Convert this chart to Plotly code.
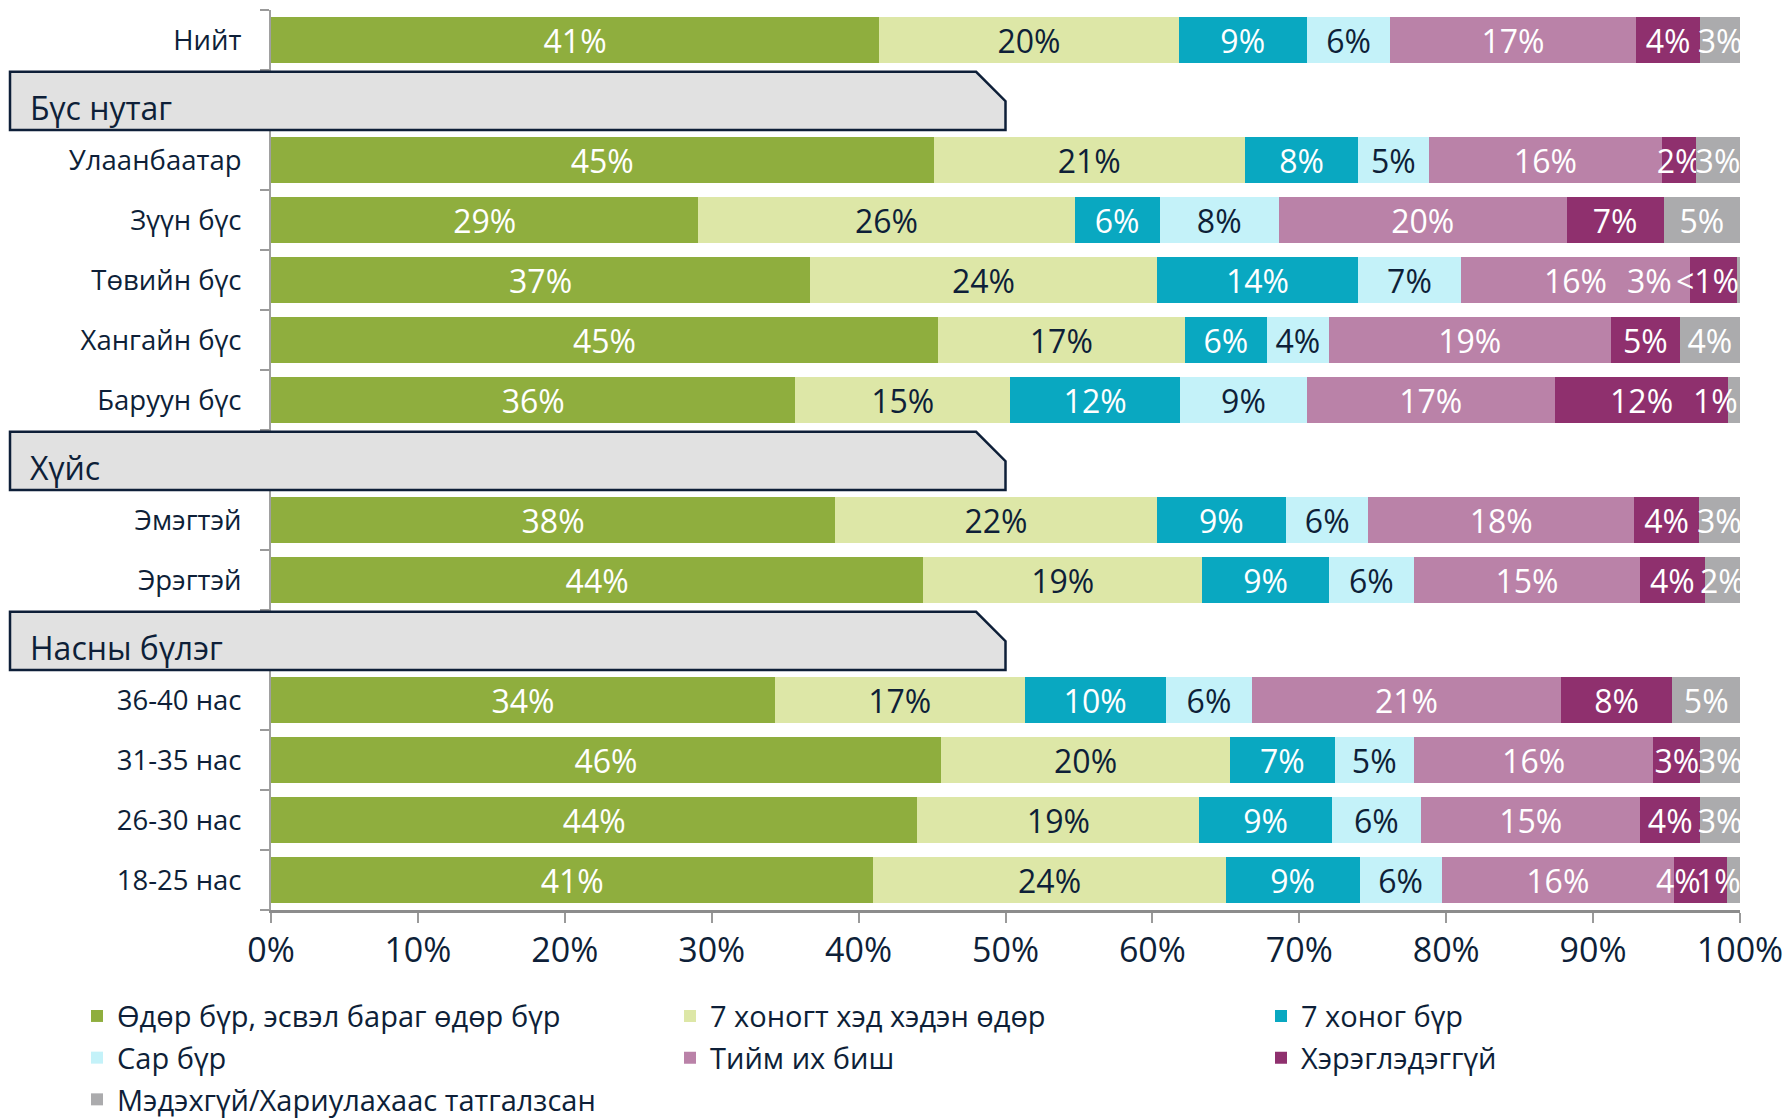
import plotly.graph_objects as go

# ---------------- data ----------------
axis_order = ["Нийт", "Бүс нутаг", "Улаанбаатар", "Зүүн бүс", "Төвийн бүс", "Хангайн бүс",
              "Баруун бүс", "Хүйс", "Эмэгтэй", "Эрэгтэй", "Насны бүлэг",
              "36-40 нас", "31-35 нас", "26-30 нас", "18-25 нас"]
group_headers = ["Бүс нутаг", "Хүйс", "Насны бүлэг"]
rows = ["Нийт", "Улаанбаатар", "Зүүн бүс", "Төвийн бүс", "Хангайн бүс", "Баруун бүс",
        "Эмэгтэй", "Эрэгтэй", "36-40 нас", "31-35 нас", "26-30 нас", "18-25 нас"]

series_names = ["Өдөр бүр, эсвэл бараг өдөр бүр", "7 хоногт хэд хэдэн өдөр", "7 хоног бүр",
                "Сар бүр", "Тийм их биш", "Хэрэглэдэггүй", "Мэдэхгүй/Хариулахаас татгалзсан"]
daily   = [41.4, 45.1, 29.1, 36.7, 45.4, 35.7, 38.4, 44.4, 34.3, 45.6, 44.0, 41.0]
several = [20.4, 21.2, 25.6, 23.6, 16.8, 14.6, 21.9, 19.0, 17.0, 19.7, 19.2, 24.0]
weekly  = [8.7, 7.7, 5.8, 13.7, 5.6, 11.6, 8.8, 8.6, 9.6, 7.1, 9.0, 9.1]
monthly = [5.7, 4.8, 8.1, 7.0, 4.2, 8.6, 5.6, 5.8, 5.9, 5.4, 6.1, 5.6]
rarely  = [16.7, 15.9, 19.6, 15.6, 19.2, 16.9, 18.1, 15.4, 21.0, 16.3, 14.9, 15.8]
never   = [4.4, 2.3, 6.6, 3.2, 4.7, 11.8, 4.4, 4.4, 7.6, 3.2, 4.1, 3.6]
dk      = [2.7, 3.0, 5.2, 0.2, 4.1, 0.8, 2.8, 2.4, 4.6, 2.7, 2.7, 0.9]
series_values = [daily, several, weekly, monthly, rarely, never, dk]

x_ticks = [0, 10, 20, 30, 40, 50, 60, 70, 80, 90, 100]

# ---------------- style ----------------
W, H = 1788, 1120
ML, MR, MT, MB = 271, 48, 10, 210
PW, PH = W - ML - MR, H - MT - MB
FONT = "Open Sans"
NAVY = "#0e1f38"
colors = ["#8fae3e", "#dde7a7", "#09a8c1", "#c4f2f9", "#ba82a8", "#8f306e", "#ababad"]
text_colors = ["white", NAVY, "white", NAVY, "white", "white", "white"]
legend_ids = ["legend", "legend2", "legend3", "legend", "legend2", "legend3", "legend"]
# manual label nudges (px) where the original moved crowded labels
label_shift = {("Төвийн бүс", 5): -64, ("Төвийн бүс", 6): -31,
               ("18-25 нас", 5): -22, ("18-25 нас", 6): -15,
               ("Баруун бүс", 6): -19}
LABEL_SIZE = 32


def fmt(v):
    return "<1%" if v < 0.5 else f"{round(v)}%"


fig = go.Figure()
cum = [0.0] * len(rows)
annotations = []
for k, (name, vals) in enumerate(zip(series_names, series_values)):
    texts = []
    for r, (cat, v) in enumerate(zip(rows, vals)):
        if (cat, k) in label_shift:
            texts.append("")
            annotations.append(dict(
                x=cum[r] + v / 2, y=cat, xref="x", yref="y", text=fmt(v), showarrow=False,
                xshift=label_shift[(cat, k)],
                font=dict(family=FONT, size=LABEL_SIZE, color=text_colors[k])))
        else:
            texts.append(fmt(v))
    fig.add_trace(go.Bar(
        y=rows, x=vals, orientation="h", name=name,
        marker=dict(color=colors[k], line=dict(width=0)),
        text=texts, textposition="inside", insidetextanchor="middle", textangle=0,
        constraintext="none", cliponaxis=False,
        textfont=dict(family=FONT, size=LABEL_SIZE, color=text_colors[k]),
        hoverinfo="skip", legend=legend_ids[k], legendgroup=name,
    ))
    cum = [c + v for c, v in zip(cum, vals)]

# header boxes (chamfered) spanning from the left margin to 50% of the axis
n = len(axis_order)
def ypaper(v):
    return (n - 0.5 - v) / n

x_left = (10 - ML) / PW
shapes = []
for h in group_headers:
    i = axis_order.index(h)
    yt, ym, yb = ypaper(i - 0.47), ypaper(i + 0.02), ypaper(i + 0.5)
    path = f"M {x_left},{yt} L 0.48,{yt} L 0.5,{ym} L 0.5,{yb} L {x_left},{yb} Z"
    shapes.append(dict(type="path", path=path, xref="paper", yref="paper",
                       fillcolor="#e1e1e1", line=dict(color=NAVY, width=2.5), layer="above"))
    annotations.append(dict(x=(28 - ML) / PW, y=ypaper(i + 0.12), xref="paper", yref="paper",
                            xanchor="left", yanchor="middle", text=h, showarrow=False,
                            font=dict(family=FONT, size=32, color=NAVY)))

ticktext = ["" if c in group_headers else c for c in axis_order]

leg_common = dict(orientation="v", xanchor="left", yanchor="top", y=(PH + MT - 990.6) / PH,
                  font=dict(family=FONT, size=29, color=NAVY), traceorder="grouped",
                  tracegroupgap=1, bgcolor="rgba(0,0,0,0)", borderwidth=0)

fig.update_layout(
    width=W, height=H, barmode="stack", bargap=0.233,
    margin=dict(l=ML, r=MR, t=MT, b=MB, autoexpand=False),
    paper_bgcolor="white", plot_bgcolor="white",
    font=dict(family=FONT, color=NAVY),
    shapes=shapes, annotations=annotations,
    legend=dict(leg_common, x=(77 - ML) / PW),
    legend2=dict(leg_common, x=(670 - ML) / PW),
    legend3=dict(leg_common, x=(1261 - ML) / PW),
    xaxis=dict(range=[0, 100.0001], tickvals=x_ticks, ticktext=[f"{t}%" for t in x_ticks],
               showgrid=False, zeroline=False, showline=True, linecolor="#8c8c8c", linewidth=3,
               ticks="outside", ticklen=10, tickwidth=1.5, tickcolor="#9a9a9a",
               tickfont=dict(family=FONT, size=34, color=NAVY), ticklabelstandoff=-2,
               ticklabeloverflow="allow"),
    yaxis=dict(type="category", categoryorder="array", categoryarray=axis_order,
               range=[n - 0.5, -0.5], tickmode="array", tickvals=axis_order, ticktext=ticktext,
               tickson="boundaries", ticks="outside", ticklen=9, tickwidth=2, tickcolor="#9a9a9a",
               showline=True, linecolor="#a0a0a0", linewidth=2, showgrid=False, zeroline=False,
               tickfont=dict(family=FONT, size=27.5, color=NAVY), ticklabelstandoff=22),
)

# remove the browser's default 8px body margin so the figure fills the window exactly
fig.write_html("out.html", config={"displayModeBar": False},
               post_script="document.body.style.margin='0';")
